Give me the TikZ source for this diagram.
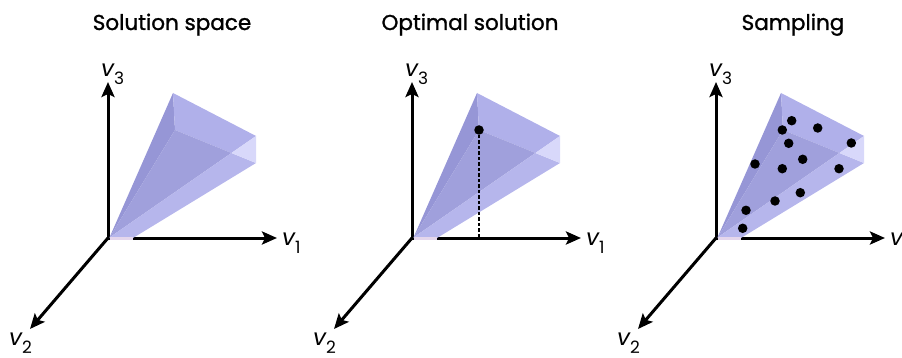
\documentclass[tikz,border=0pt]{standalone}
\usepackage{fontspec}
\setmainfont{Poppins}
\newfontfamily\titlefont{Poppins}[FakeBold=1.2]
\usetikzlibrary{arrows.meta}
\definecolor{faceleft}{RGB}{150,150,214}
\definecolor{facetop}{RGB}{176,176,234}
\definecolor{facemid}{RGB}{160,160,220}
\definecolor{facelow}{RGB}{182,182,236}
\definecolor{facetri}{RGB}{216,216,250}
\definecolor{footpink}{RGB}{228,214,236}
\tikzset{
  axis/.style={line width=3pt,-{Stealth[length=15pt,width=13pt,inset=3pt]}},
  paneltitle/.style={anchor=base,inner sep=0pt,font=\titlefont\fontsize{21.5}{24}\selectfont},
  axislabel/.style={anchor=base west,inner sep=0pt,font=\fontsize{23}{25}\selectfont\itshape},
  sample/.style={circle,fill=black,inner sep=0pt,minimum size=9.5pt},
}
\newcommand{\axlab}[1]{v\raisebox{-8pt}{\fontsize{17}{18}\selectfont\upshape #1}}
\begin{document}
\begin{tikzpicture}[x=1pt,y=-1pt]
\useasboundingbox (0,0) rectangle (902,358);
% three panels, same axes and cone
\foreach \p/\name in {0/space,1/optimal,2/sampling}{
\begin{scope}[xshift=\p*304pt]
  \coordinate (o-\name) at (108,238);
  \coordinate (x-\name) at (277,238);
  \coordinate (y-\name) at (30,329);
  \coordinate (z-\name) at (108,82);
  \draw[axis] (o-\name) -- (x-\name);
  \draw[axis] (o-\name) -- (z-\name);
  \draw[axis] (o-\name) -- (y-\name);
  % cone corners
  \coordinate (apex) at (109.5,237.5);
  \coordinate (foot) at (133,238);
  \coordinate (a-\name) at (173,93);
  \coordinate (b-\name) at (256,136);
  \coordinate (c-\name) at (256,163);
  \coordinate (d-\name) at (175,130);
  \coordinate (m-\name) at (231.4,153);
  \fill[faceleft] (apex) -- (a-\name) -- (d-\name) -- cycle;
  \fill[facetop] (a-\name) -- (b-\name) -- (m-\name) -- (d-\name) -- cycle;
  \fill[facemid] (apex) -- (d-\name) -- (m-\name) -- cycle;
  \fill[facelow] (apex) -- (m-\name) -- (c-\name) -- (foot) -- cycle;
  \fill[facetri] (m-\name) -- (b-\name) -- (c-\name) -- cycle;
  \fill[footpink] (109.5,236.5) rectangle (133,239.5);
  \node[axislabel] (l1-\name) at (282,245) {\axlab{1}};
  \node[axislabel] (l2-\name) at (9,345) {\axlab{2}};
  \node[axislabel] (l3-\name) at (101,77) {\axlab{3}};
\end{scope}}
% titles
\node[paneltitle] (t-space) at (172,30) {Solution space};
\node[paneltitle] (t-optimal) at (470,30) {Optimal solution};
\node[paneltitle] (t-sampling) at (793,30) {Sampling};
% optimum
\node[sample] (opt) at (d-optimal) {};
\draw[dashed,line width=1.3pt,dash pattern=on 3.5pt off 2pt] (opt) -- (opt |- o-optimal);
% samples
\foreach \x/\y [count=\i] in {791.7/120.7,817.7/128,782.3/130,851.3/143,788.7/143.3,
  755/164,802.7/159.3,782.3/168.7,839/168.7,800.3/192.7,775/201,746/210.3,742.7/228.3}
  \node[sample] (s-\i) at (\x,\y) {};
\end{tikzpicture}
\end{document}
